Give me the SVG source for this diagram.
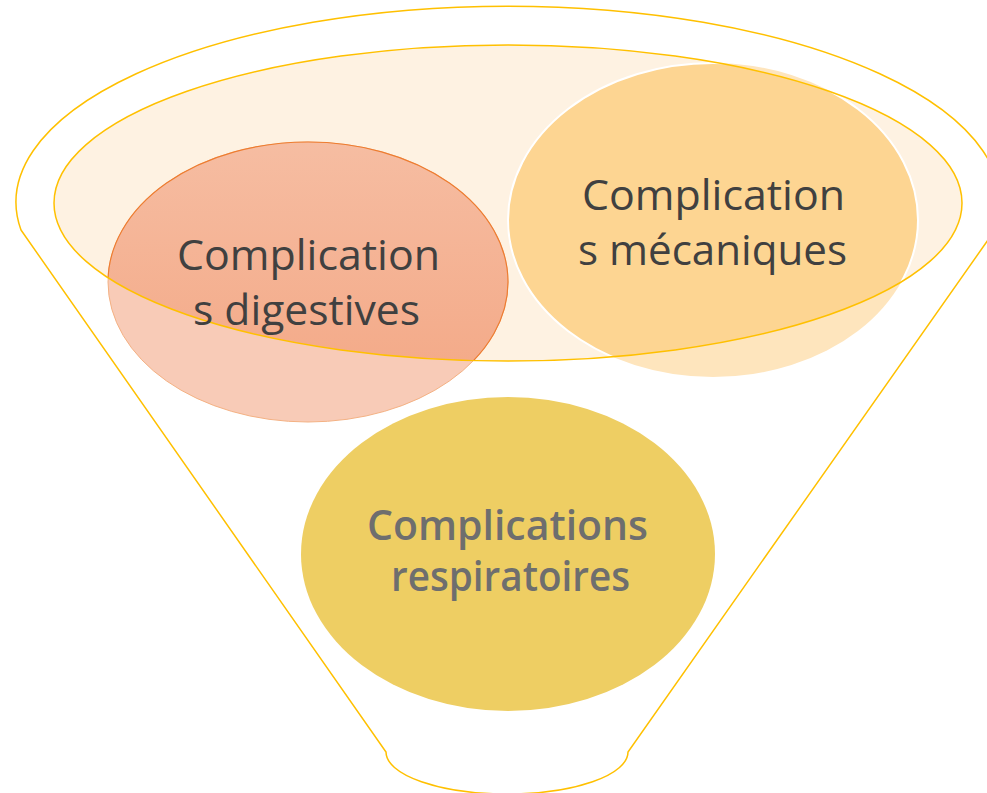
<svg xmlns="http://www.w3.org/2000/svg" width="987" height="793" viewBox="0 0 987 793">
<style>
.gold{fill:none;stroke:#FFC000;stroke-width:1.5}
.lbl{font-family:"Open Sans","Noto Sans","DejaVu Sans",sans-serif;font-size:42px;fill:#404040}
.lbl2{font-family:"Open Sans","Noto Sans","DejaVu Sans",sans-serif;font-size:41px;font-weight:600;fill:#6E6E6E}
</style>
<defs>
<clipPath id="inner"><ellipse cx="508" cy="203" rx="454" ry="158"/></clipPath>
<linearGradient id="dg" x1="0" y1="0" x2="0" y2="1">
<stop offset="0" stop-color="#F6BDA2"/>
<stop offset="1" stop-color="#F3A683"/>
</linearGradient>
</defs>
<rect width="987" height="793" fill="#FFFFFF"/>
<g id="funnel">
<path class="gold" d="M21,230 L386,752 A121 42 0 0 0 628,752 L995,230 A492 196 0 1 0 21,230 Z"/>
<ellipse cx="508" cy="203" rx="454" ry="158" fill="#FEF2E2"/>
</g>
<g id="digestives">
<ellipse cx="308" cy="282" rx="200" ry="140" fill="#F8CBB7" stroke="#F4B183" stroke-width="1"/>
<ellipse cx="308" cy="282" rx="200" ry="140" fill="url(#dg)" stroke="#ED7D31" stroke-width="1.2" clip-path="url(#inner)"/>
</g>
<g id="mecaniques">
<ellipse cx="713" cy="220" rx="205" ry="157" fill="#FEE5BD"/>
<ellipse cx="713" cy="220" rx="205" ry="157" fill="#FDD592" stroke="#FFFFFF" stroke-width="2" clip-path="url(#inner)"/>
</g>
<g id="respiratoires">
<ellipse cx="508" cy="554" rx="207" ry="157" fill="#EECE63"/>
</g>
<g id="connectors">
<ellipse class="gold" cx="508" cy="203" rx="454" ry="158"/>
</g>
<g id="labels">
<text class="lbl" x="177" y="270" textLength="263" lengthAdjust="spacingAndGlyphs">Complication</text>
<text class="lbl" x="193" y="325" textLength="227" lengthAdjust="spacingAndGlyphs">s digestives</text>
<text class="lbl" x="582" y="210" textLength="263" lengthAdjust="spacingAndGlyphs">Complication</text>
<text class="lbl" x="578" y="265" textLength="269" lengthAdjust="spacingAndGlyphs">s mécaniques</text>
<text class="lbl2" x="367" y="540" textLength="281" lengthAdjust="spacingAndGlyphs">Complications</text>
<text class="lbl2" x="391" y="591" textLength="239" lengthAdjust="spacingAndGlyphs">respiratoires</text>
</g>
</svg>
